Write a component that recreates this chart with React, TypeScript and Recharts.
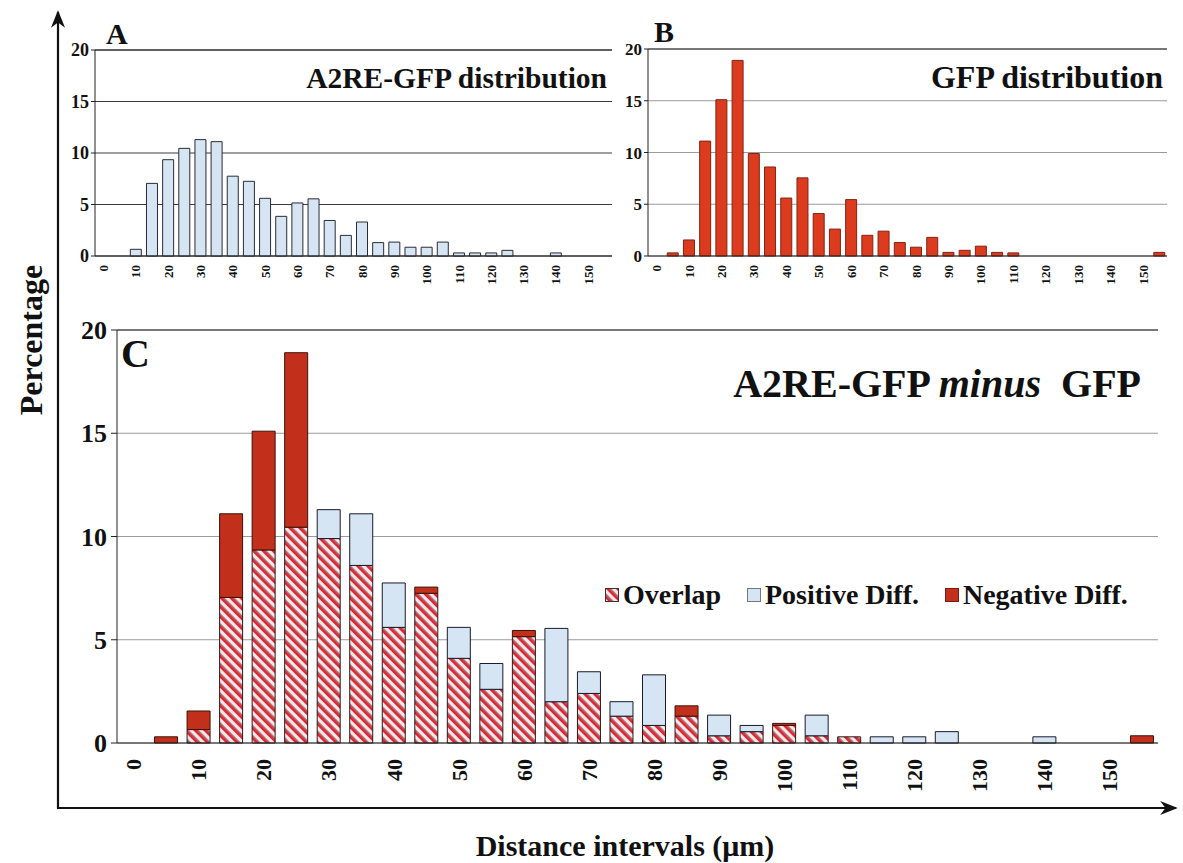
import { Bar, BarChart, CartesianGrid, Legend, ReferenceLine, XAxis, YAxis } from 'recharts'

const serif = '"Liberation Serif", "Times New Roman", Times, serif'

// 5 µm distance bins, labelled every 10 µm
const bins = ['0', '5', '10', '15', '20', '25', '30', '35', '40', '45', '50', '55', '60', '65', '70', '75',
  '80', '85', '90', '95', '100', '105', '110', '115', '120', '125', '130', '135', '140', '145', '150', '155']

// percentage of particles per bin
const a2reGfp = [0, 0, 0.65, 7.05, 9.35, 10.45, 11.3, 11.1, 7.75, 7.25, 5.6, 3.85, 5.15, 5.55, 3.45, 2.0,
  3.3, 1.3, 1.35, 0.85, 0.85, 1.35, 0.3, 0.3, 0.3, 0.55, 0, 0, 0.3, 0, 0, 0]
const gfp = [0, 0.3, 1.55, 11.1, 15.1, 18.9, 9.9, 8.6, 5.6, 7.55, 4.1, 2.6, 5.45, 2.0, 2.4, 1.3,
  0.85, 1.8, 0.35, 0.55, 0.95, 0.35, 0.3, 0, 0, 0, 0, 0, 0, 0, 0, 0.35]

const yTicks = [0, 5, 10, 15, 20]

const rows = bins.map((bin, i) => {
  const a = a2reGfp[i]
  const g = gfp[i]
  return {
    bin,
    a2re: a,
    gfp: g,
    overlap: Math.min(a, g),
    positive: Math.max(a - g, 0),
    negative: Math.max(g - a, 0),
  }
})

// category boundaries for the Excel-style tick marks between bars
const edges = bins.map((_, i) => i).concat(bins.length)

const BLUE = '#d6e5f4'
const RED = '#dd3b1e'
const DARK_RED = '#c2301c'

// upright bin label reading bottom to top, hanging below the axis
function BinTick(props: any) {
  const { x, y, payload, size, ox, oy } = props
  return (
    <text transform={`translate(${x + ox},${y + oy}) rotate(-90)`} textAnchor="end"
      fontFamily={serif} fontWeight="bold" fontSize={size} fill="#111">
      {payload.value}
    </text>
  )
}

interface PanelProps {
  dataKey: 'a2re' | 'gfp'
  fill: string
  stroke: string
  grid: string
  left: number
  width: number
  top: number
  yWidth: number
  yFont: number
}

function SmallPanel({ dataKey, fill, stroke, grid, left, width, top, yWidth, yFont }: PanelProps) {
  return (
    <div style={{ position: 'absolute', left, top: 0 }}>
      <BarChart width={width} height={300} data={rows} margin={{ top, right: 8, left: 0, bottom: 0 }}>
        <CartesianGrid horizontal vertical={false} stroke={grid} />
        <ReferenceLine y={20} stroke="#222" />
        <XAxis xAxisId="edge" type="number" domain={[0, bins.length]} ticks={edges} allowDataOverflow
          height={0} tickFormatter={() => ''} tickSize={4} stroke="#222" />
        <XAxis dataKey="bin" interval={1} height={44} tickLine={false} axisLine={{ stroke: '#222' }} tickSize={0}
          tick={(p: any) => <BinTick {...p} size={13} ox={5} oy={7} />} />
        <YAxis domain={[0, 20]} ticks={yTicks} width={yWidth} tickSize={4} tickMargin={2} stroke="#222"
          tick={{ fontFamily: serif, fontWeight: 'bold', fontSize: yFont, fill: '#111' }} />
        <Bar dataKey={dataKey} fill={fill} stroke={stroke} strokeWidth={1} barSize={11} isAnimationActive={false} />
      </BarChart>
    </div>
  )
}

function DiffLegend() {
  const items = [
    { label: 'Overlap', fill: 'url(#hatch)', stroke: '#333' },
    { label: 'Positive Diff.', fill: BLUE, stroke: '#777' },
    { label: 'Negative Diff.', fill: DARK_RED, stroke: '#7a1c10' },
  ]
  return (
    <div style={{ display: 'flex', alignItems: 'center', gap: 26, fontFamily: serif, fontWeight: 'bold', fontSize: 28, color: '#111', whiteSpace: 'nowrap' }}>
      {items.map(it => (
        <div key={it.label} style={{ display: 'flex', alignItems: 'center', gap: 4 }}>
          <svg width={14} height={14}>
            <rect x={0.5} y={0.5} width={13} height={13} fill={it.fill} stroke={it.stroke} />
          </svg>
          <span>{it.label}</span>
        </div>
      ))}
    </div>
  )
}

function DiffPanel() {
  return (
    <div style={{ position: 'absolute', left: 60, top: 300 }}>
      <BarChart width={1110} height={510} data={rows} margin={{ top: 30, right: 12, left: 0, bottom: 0 }}>
        <defs>
          <pattern id="hatch" width="7" height="7" patternUnits="userSpaceOnUse" patternTransform="rotate(-45)">
            <rect width="7" height="7" fill="#fbe6ea" />
            <rect x="0" width="2.6" height="7" fill="#e3242f" />
            <rect x="2.6" width="0.9" height="7" fill="#6b1f22" />
          </pattern>
        </defs>
        <CartesianGrid horizontal vertical={false} stroke="#9a9a9a" />
        <ReferenceLine y={20} stroke="#222" />
        <XAxis xAxisId="edge" type="number" domain={[0, bins.length]} ticks={edges} allowDataOverflow
          height={0} tickFormatter={() => ''} tickSize={6} stroke="#222" />
        <ReferenceLine xAxisId="edge" x={bins.length} stroke="#444" />
        <XAxis dataKey="bin" interval={1} height={67} tickLine={false} axisLine={{ stroke: '#222' }} tickSize={0}
          tick={(p: any) => <BinTick {...p} size={22} ox={8} oy={14} />} />
        <YAxis domain={[0, 20]} ticks={yTicks} width={57} tickSize={6} tickMargin={4} stroke="#222"
          tick={{ fontFamily: serif, fontWeight: 'bold', fontSize: 26, fill: '#111' }} />
        <Legend layout="horizontal" verticalAlign="middle" align="center" content={() => <DiffLegend />}
          wrapperStyle={{ left: 545, top: 279, width: 'auto' }} />
        <Bar dataKey="overlap" name="Overlap" stackId="c" fill="url(#hatch)" stroke="#2a1a1a" barSize={23} isAnimationActive={false} />
        <Bar dataKey="positive" name="Positive Diff." stackId="c" fill={BLUE} stroke="#1a1a2a" barSize={23} isAnimationActive={false} />
        <Bar dataKey="negative" name="Negative Diff." stackId="c" fill={DARK_RED} stroke="#3a1208" barSize={23} isAnimationActive={false} />
      </BarChart>
    </div>
  )
}

export default function App() {
  const bold = { fontFamily: serif, fontWeight: 'bold' as const, fill: '#111' }
  return (
    <div style={{ position: 'absolute', left: 0, top: 0, width: 1183, height: 863, background: '#fff', overflow: 'hidden' }}>
      <svg width={1183} height={863} style={{ position: 'absolute', left: 0, top: 0 }}>
        <defs>
          <marker id="arrow" viewBox="0 0 10 10" refX="9" refY="5" markerWidth="8" markerHeight="8" orient="auto">
            <path d="M0,1 L10,5 L0,9 L3,5 Z" fill="#111" />
          </marker>
        </defs>
        <line x1={58} y1={809} x2={58} y2={12} stroke="#111" strokeWidth={2.2} markerEnd="url(#arrow)" />
        <line x1={57} y1={808} x2={1176} y2={808} stroke="#111" strokeWidth={2.2} markerEnd="url(#arrow)" />
      </svg>

      <SmallPanel dataKey="a2re" fill={BLUE} stroke="#2b2b33" grid="#3a3a48" left={40} width={580} top={50} yWidth={55} yFont={18} />
      <SmallPanel dataKey="gfp" fill={RED} stroke="#7e2414" grid="#9a9a9a" left={600} width={575} top={49} yWidth={48} yFont={17} />
      <DiffPanel />

      <svg width={1183} height={863} style={{ position: 'absolute', left: 0, top: 0, pointerEvents: 'none' }}>
        <text x={106} y={44} fontSize={30} {...bold}>A</text>
        <text x={654} y={42} fontSize={30} {...bold}>B</text>
        <text x={121} y={367} fontSize={40} {...bold}>C</text>
        <text x={607} y={88} fontSize={29.5} textAnchor="end" {...bold}>A2RE-GFP distribution</text>
        <text x={1163} y={88} fontSize={32} textAnchor="end" {...bold}>GFP distribution</text>
        <text x={1141} y={397} fontSize={40} textAnchor="end" {...bold} xmlSpace="preserve">
          A2RE-GFP <tspan fontStyle="italic">minus</tspan>  GFP
        </text>
        <text transform="translate(42,340) rotate(-90)" textAnchor="middle" fontSize={32} {...bold}>Percentage</text>
        <text x={625} y={856} textAnchor="middle" fontSize={30} {...bold}>Distance intervals (μm)</text>
      </svg>
    </div>
  )
}
